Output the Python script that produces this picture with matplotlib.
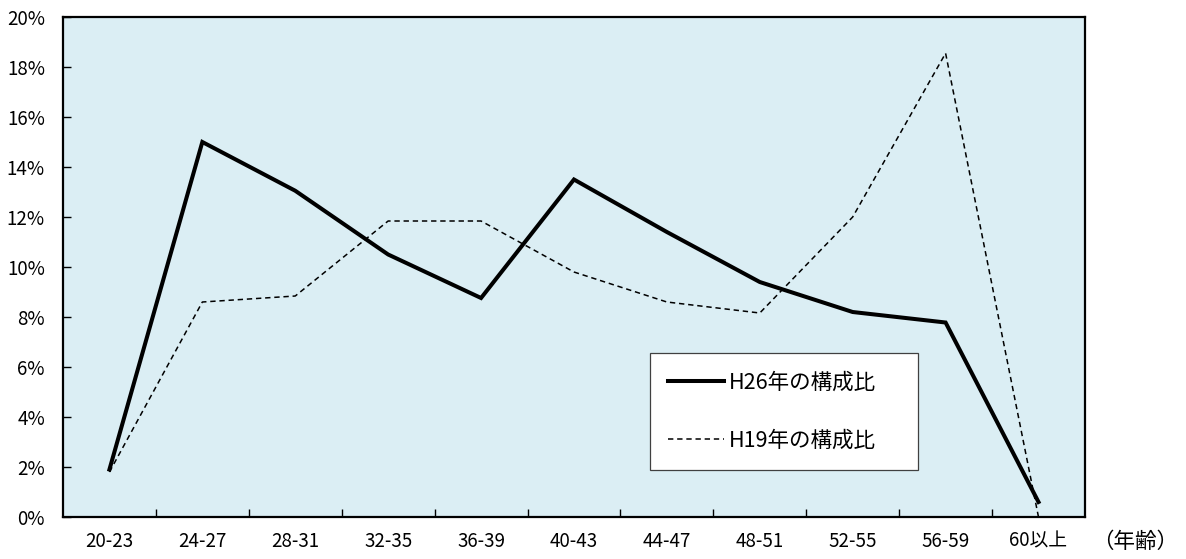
import numpy as np
import matplotlib
matplotlib.use('Agg')
import matplotlib.pyplot as plt
from matplotlib.ticker import FixedLocator, PercentFormatter

plt.rcParams['font.family'] = ['Noto Sans CJK JP', 'DejaVu Sans']

age_groups = ['20-23', '24-27', '28-31', '32-35', '36-39', '40-43',
              '44-47', '48-51', '52-55', '56-59', '60以上']
h26_share = [1.9, 15.0, 13.05, 10.5, 8.76, 13.5, 11.4, 9.4, 8.2, 7.78, 0.6]
h19_share = [1.8, 8.6, 8.84, 11.84, 11.84, 9.8, 8.6, 8.16, 12.0, 18.55, 0.0]
labels = ['H26年の構成比', 'H19年の構成比']


def draw_chart(out_file='out.png'):
    fig = plt.figure(figsize=(11.86, 5.59), dpi=100)
    ax = fig.add_axes([0.0531, 0.0751, 0.8617, 0.8945])
    ax.set_facecolor('#dbeef4')

    x = np.arange(len(age_groups))
    ax.plot(x, h26_share, color='black', lw=2.9, solid_joinstyle='miter',
            label=labels[0], clip_on=False)
    ax.plot(x, h19_share, color='black', lw=1.1, linestyle=(0, (3.5, 2.5)),
            label=labels[1], clip_on=False)

    ax.set_xlim(-0.5, len(age_groups) - 0.5)
    ax.set_ylim(0, 20)

    ax.yaxis.set_major_locator(FixedLocator(np.arange(0, 21, 2)))
    ax.yaxis.set_major_formatter(PercentFormatter(decimals=0))
    ax.tick_params(axis='y', direction='in', length=6, width=1,
                   pad=13, labelsize=13.5)

    ax.xaxis.set_major_locator(FixedLocator(x[:-1] + 0.5))
    ax.xaxis.set_minor_locator(FixedLocator(x))
    ax.set_xticklabels([], minor=False)
    ax.set_xticklabels(age_groups, minor=True)
    ax.tick_params(axis='x', which='major', direction='in', length=6, width=1)
    ax.tick_params(axis='x', which='minor', length=0, pad=10, labelsize=13.5)

    for s in ax.spines.values():
        s.set_linewidth(1.6)
        s.set_color('black')

    fig.text(1135 / 1186, 1 - 542 / 559, '（年齢）', ha='center',
             va='center', fontsize=15.5)

    leg = ax.legend(loc='upper left', bbox_to_anchor=(0.574, 0.328, 0.263, 0.0),
                    mode='expand', fontsize=15.5, frameon=True, fancybox=False,
                    borderpad=0.85, labelspacing=1.68, handlelength=2.6,
                    handletextpad=0.25, borderaxespad=0)
    leg.get_frame().set_edgecolor('#404040')
    leg.get_frame().set_linewidth(0.9)
    leg.get_frame().set_facecolor('white')
    leg.get_frame().set_alpha(1)

    fig.savefig(out_file, dpi=100, facecolor='white')


if __name__ == "__main__":
    draw_chart('out.png')
